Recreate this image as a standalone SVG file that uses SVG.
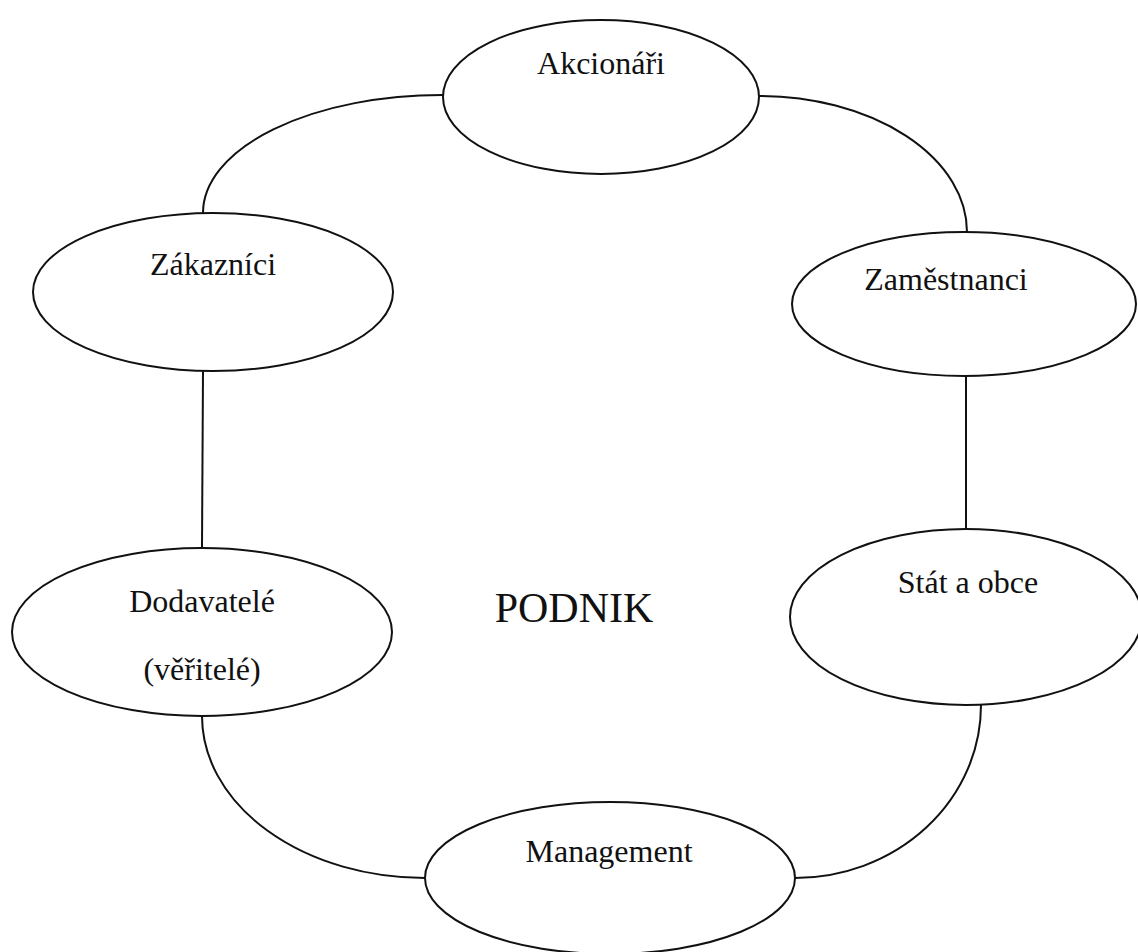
<svg xmlns="http://www.w3.org/2000/svg" width="1138" height="952" viewBox="0 0 1138 952">
<style>
.n ellipse{fill:#fff;stroke:#111;stroke-width:2}
.c path{fill:none;stroke:#111;stroke-width:2}
text{font-family:"Liberation Serif","Times New Roman",serif;font-size:32px;fill:#111;text-anchor:middle}
</style>
<rect width="1138" height="952" fill="#fff"/>
<g id="connectors" class="c">
<path d="M203,213 A239,118 0 0 1 443,95"/>
<path d="M759,96 A208,136 0 0 1 967,232"/>
<path d="M203,371 L202,548"/>
<path d="M966,376 L966,529"/>
<path d="M202,716 A223,162 0 0 0 425,878"/>
<path d="M981,705 A186,173 0 0 1 795,878"/>
</g>
<g id="akcionari" class="n"><ellipse cx="601" cy="97" rx="158" ry="77"/><text x="601" y="74">Akcionáři</text></g>
<g id="zakaznici" class="n"><ellipse cx="213" cy="292" rx="180" ry="79"/><text x="213" y="275">Zákazníci</text></g>
<g id="zamestnanci" class="n"><ellipse cx="964" cy="304" rx="172" ry="72"/><text x="946" y="290">Zaměstnanci</text></g>
<g id="stat" class="n"><ellipse cx="966" cy="617" rx="176" ry="88"/><text x="968" y="593">Stát a obce</text></g>
<g id="dodavatele" class="n"><ellipse cx="202" cy="632" rx="190" ry="84"/><text x="202" y="612">Dodavatelé</text><text x="202" y="680">(věřitelé)</text></g>
<g id="management" class="n"><ellipse cx="610" cy="878" rx="185" ry="76"/><text x="609" y="862">Management</text></g>
<g id="podnik"><text x="574" y="622" style="font-size:42px">PODNIK</text></g>
</svg>
